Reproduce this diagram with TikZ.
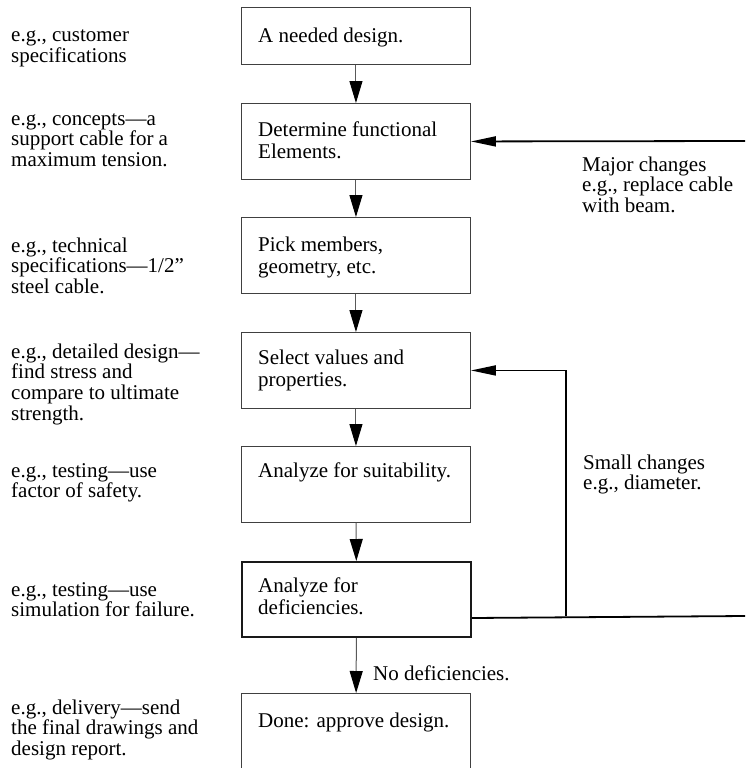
\documentclass[tikz,border=0pt]{standalone}
\usepackage{fontspec}
\setmainfont{Liberation Serif}
\usetikzlibrary{arrows.meta,calc}
% several left-aligned lines whose first baseline is the node's base
\newcommand\txtlines[1]{\begin{tabular}[t]{@{}l@{}}#1\end{tabular}}

\begin{document}
\begin{tikzpicture}[x=1pt,y=-1pt,
  stepbox/.style={draw=black!75, line width=0.9pt, rectangle,
    minimum width=229pt, minimum height=76pt, anchor=north west, inner sep=0pt},
  boxtext/.style={anchor=base west, inner sep=0pt, font=\fontsize{21}{22}\selectfont},
  note/.style={anchor=base west, inner sep=0pt, font=\fontsize{21}{20.5}\selectfont},
  flow/.style={draw=black!65, line width=1pt,
    -{Triangle[length=22pt,width=13pt,color=black]}},
  loopline/.style={draw=black, line width=1.8pt},
  loopin/.style={loopline, -{Triangle[length=25pt,width=10pt]}}]

\useasboundingbox (0,0) rectangle (745,768);

% process steps
\node[stepbox, minimum height=57pt] (b1) at (241,7) {};
\node[stepbox] (b2) at (241,103) {};
\node[stepbox] (b3) at (241,217) {};
\node[stepbox] (b4) at (241,332) {};
\node[stepbox] (b5) at (241,446) {};
\node[stepbox, line width=2pt, draw=black!90, minimum height=75pt] (b6) at (241,561) {};
\node[stepbox] (b7) at (241,693) {};

\node[boxtext] (t1) at (258,43) {A needed design.};
\node[boxtext] (t2) at (258,136) {\txtlines{Determine functional\\Elements.}};
\node[boxtext] (t3) at (258,251) {\txtlines{Pick members,\\geometry, etc.}};
\node[boxtext] (t4) at (258,364) {\txtlines{Select values and\\properties.}};
\node[boxtext] (t5) at (258,477) {Analyze for suitability.};
\node[boxtext] (t6) at (258,592) {\txtlines{Analyze for\\deficiencies.}};
\node[boxtext] (t7) at (258,727) {Done: approve design.};

% examples in the left column
\node[note] (n1) at (11,42) {\txtlines{e.g., customer\\specifications}};
\node[note] (n2) at (11,125) {\txtlines{e.g., concepts—a\\support cable for a\\maximum tension.}};
\node[note] (n3) at (11,252) {\txtlines{e.g., technical\\specifications—1/2”\\steel cable.}};
\node[note] (n4) at (11,358) {\txtlines{e.g., detailed design—\\find stress and\\compare to ultimate\\strength.}};
\node[note] (n5) at (11,477) {\txtlines{e.g., testing—use\\factor of safety.}};
\node[note] (n6) at (11,596) {\txtlines{e.g., testing—use\\simulation for failure.}};
\node[note] (n7) at (11,714) {\txtlines{e.g., delivery—send\\the final drawings and\\design report.}};

% feedback labels
\node[note] (major) at (582,171) {\txtlines{Major changes\\e.g., replace cable\\with beam.}};
\node[note] (minor) at (583,469) {\txtlines{Small changes\\e.g., diameter.}};
\node[note] (nodef) at (373,680) {No deficiencies.};

% main flow
\foreach \a/\b in {b1/b2,b2/b3,b3/b4,b4/b5,b5/b6,b6/b7}
  \draw[flow] (\a) -- (\b);

% feedback loops
\coordinate (mjr) at (745,141);
\draw[loopin] (mjr) -- (b2.east);

\coordinate (out) at ($(b6.south east)+(0,-20)$);
\coordinate (edge) at (745,616);
\coordinate (jn) at (566,616);
\draw[loopline] (out) -- (edge);
\draw[loopin] (jn) |- (b4.east);

\end{tikzpicture}
\end{document}
